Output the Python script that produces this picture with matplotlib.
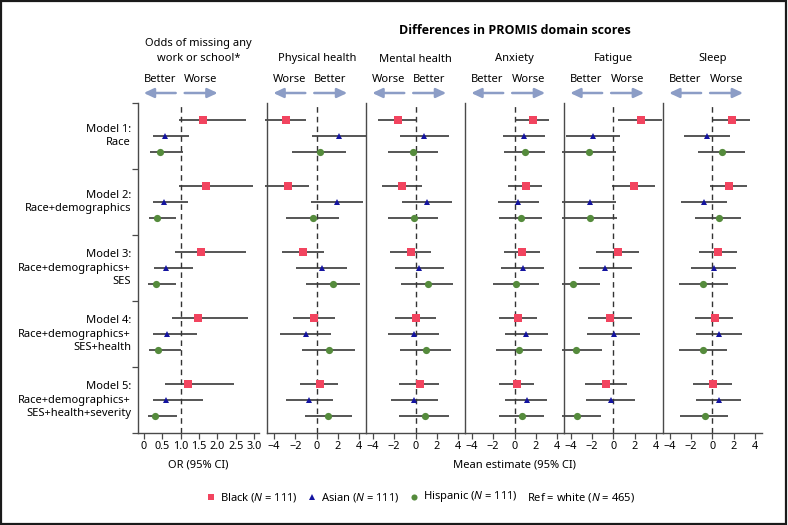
import matplotlib
matplotlib.use("Agg")
import matplotlib.pyplot as plt
from matplotlib.lines import Line2D
from matplotlib.patches import Rectangle, FancyArrowPatch

FONT = "Noto Sans"
plt.rcParams['font.family'] = [FONT, 'DejaVu Sans']
plt.rcParams['mathtext.fontset'] = 'custom'
plt.rcParams['mathtext.it'] = FONT + ':italic'
plt.rcParams['mathtext.rm'] = FONT

# ---------------- data ----------------
models = ["Model 1:\nRace",
          "Model 2:\nRace+demographics",
          "Model 3:\nRace+demographics+\nSES",
          "Model 4:\nRace+demographics+\nSES+health",
          "Model 5:\nRace+demographics+\nSES+health+severity"]
groups = ["Black", "Asian", "Hispanic"]

# Odds ratio of missing any work or school: (estimate, low, high) per model
or_black_est = [1.62, 1.69, 1.54, 1.47, 1.21]
or_black_lo = [0.94, 0.96, 0.85, 0.76, 0.57]
or_black_hi = [2.77, 2.96, 2.77, 2.82, 2.46]
or_asian_est = [0.57, 0.54, 0.60, 0.63, 0.61]
or_asian_lo = [0.25, 0.24, 0.28, 0.25, 0.24]
or_asian_hi = [1.23, 1.19, 1.33, 1.44, 1.62]
or_hisp_est = [0.44, 0.35, 0.33, 0.38, 0.31]
or_hisp_lo = [0.16, 0.14, 0.11, 0.14, 0.10]
or_hisp_hi = [1.05, 0.87, 0.86, 1.02, 0.91]

# PROMIS domain mean differences
domains = ["Physical health", "Mental health", "Anxiety", "Fatigue", "Sleep"]
dir_labels = [("Worse", "Better"), ("Worse", "Better"), ("Better", "Worse"),
              ("Better", "Worse"), ("Better", "Worse")]

phys_black_est = [-2.85, -2.66, -1.25, -0.25, 0.31]
phys_black_lo = [-4.8, -4.8, -3.22, -2.22, -1.59]
phys_black_hi = [-0.97, -0.69, 0.72, 1.69, 2.03]
phys_asian_est = [2.09, 1.90, 0.50, -1.00, -0.75]
phys_asian_lo = [-0.44, -0.56, -1.94, -3.41, -2.87]
phys_asian_hi = [4.62, 4.38, 2.87, 1.37, 1.50]
phys_hisp_est = [0.28, -0.37, 1.56, 1.15, 1.06]
phys_hisp_lo = [-2.28, -2.84, -1.00, -1.34, -1.12]
phys_hisp_hi = [2.72, 2.12, 4.03, 3.56, 3.31]

ment_black_est = [-1.62, -1.28, -0.41, 0.03, 0.44]
ment_black_lo = [-3.53, -3.19, -2.37, -1.97, -1.56]
ment_black_hi = [0.16, 0.56, 1.41, 1.94, 2.22]
ment_asian_est = [0.81, 1.06, 0.34, -0.19, -0.16]
ment_asian_lo = [-1.50, -1.25, -1.97, -2.56, -2.34]
ment_asian_hi = [3.16, 3.37, 2.69, 2.22, 2.12]
ment_hisp_est = [-0.22, -0.19, 1.16, 0.97, 0.84]
ment_hisp_lo = [-2.56, -2.56, -1.34, -1.50, -1.59]
ment_hisp_hi = [2.06, 2.09, 3.53, 3.34, 3.09]

anx_black_est = [1.69, 1.06, 0.72, 0.37, 0.19]
anx_black_lo = [0.00, -0.59, -0.94, -1.41, -1.47]
anx_black_hi = [3.19, 2.60, 2.41, 2.06, 1.78]
anx_asian_est = [0.88, 0.37, 0.81, 1.12, 1.16]
anx_asian_lo = [-1.12, -1.59, -1.22, -0.90, -0.87]
anx_asian_hi = [2.84, 2.34, 2.75, 3.16, 3.06]
anx_hisp_est = [0.97, 0.60, 0.16, 0.44, 0.66]
anx_hisp_lo = [-1.03, -1.41, -2.00, -1.72, -1.43]
anx_hisp_hi = [2.87, 2.56, 2.25, 2.56, 2.78]

fat_black_est = [2.57, 1.94, 0.44, -0.28, -0.66]
fat_black_lo = [0.47, -0.15, -1.65, -2.41, -2.62]
fat_black_hi = [4.53, 3.91, 2.38, 1.69, 1.25]
fat_asian_est = [-1.90, -2.19, -0.78, 0.06, -0.25]
fat_asian_lo = [-4.41, -4.8, -3.22, -2.47, -2.53]
fat_asian_hi = [0.63, 0.25, 1.72, 2.50, 2.06]
fat_hisp_est = [-2.25, -2.19, -3.78, -3.53, -3.44]
fat_hisp_lo = [-4.8, -4.8, -4.8, -4.8, -4.8]
fat_hisp_hi = [0.25, 0.31, -1.22, -1.06, -1.16]

slp_black_est = [1.81, 1.56, 0.56, 0.25, 0.06]
slp_black_lo = [0.09, -0.25, -1.22, -1.65, -1.78]
slp_black_hi = [3.56, 3.25, 2.28, 1.97, 1.81]
slp_asian_est = [-0.47, -0.75, 0.12, 0.59, 0.63]
slp_asian_lo = [-2.62, -2.91, -2.00, -1.56, -1.50]
slp_asian_hi = [1.62, 1.37, 2.22, 2.81, 2.69]
slp_hisp_est = [0.88, 0.63, -0.84, -0.84, -0.72]
slp_hisp_lo = [-1.31, -1.59, -3.09, -3.12, -3.00]
slp_hisp_hi = [3.03, 2.69, 1.44, 1.34, 1.44]

or_ticks = [0, 0.5, 1.0, 1.5, 2.0, 2.5, 3.0]
or_ticklabels = ["0", "0.5", "1.0", "1.5", "2.0", "2.5", "3.0"]
mean_ticks = [-4, -2, 0, 2, 4]

legend_labels = [r"Black ($\mathit{N}$ = 111)", r"Asian ($\mathit{N}$ = 111)",
                 r"Hispanic ($\mathit{N}$ = 111)", r"Ref = white ($\mathit{N}$ = 465)"]

# ---------------- style ----------------
W, H = 788, 525
colors = {"Black": "#f2445f", "Asian": "#1414a0", "Hispanic": "#558b3c"}
markers = {"Black": "s", "Asian": "^", "Hispanic": "o"}
msizes = {"Black": 5.5, "Asian": 5, "Hispanic": 5.2}
line_col = "#383838"
spine_col = "#4a4a4a"
arrow_col = "#8c9dc6"
FS = 8.0
TFS = 7.8

def fx(x):
    return x / W

def fy(y):
    return 1 - y / H

fig = plt.figure(figsize=(W / 100, H / 100), dpi=100)

TOP, BOT = 103, 433
row_off = [-0.235, 0.0, 0.235]

def draw_panel(ax, est_lists, lo_lists, hi_lists, ref):
    for k, g in enumerate(groups):
        est, lo, hi = est_lists[k], lo_lists[k], hi_lists[k]
        ys = [m + 0.5 + row_off[k] for m in range(len(models))]
        ax.hlines(ys, lo, hi, color=line_col, lw=1.2, zorder=2, clip_on=False)
        ax.plot(est, ys, ls="none", marker=markers[g], color=colors[g],
                markersize=msizes[g], markeredgewidth=0, zorder=3, clip_on=False)
    ax.axvline(ref, color="#333333", lw=1.0, ls=(0, (4, 3)), zorder=1)
    ax.set_ylim(len(models), 0)
    for s in ["top", "right"]:
        ax.spines[s].set_visible(False)
    for s in ["left", "bottom"]:
        ax.spines[s].set_color(spine_col)
        ax.spines[s].set_linewidth(1.0)
    ax.tick_params(axis="x", direction="out", length=4, width=0.9, color=spine_col,
                   labelsize=TFS, pad=2)

def dir_header(left_px, labels):
    l1, l2 = labels
    fig.text(fx(left_px + 22), fy(80), l1, ha="center", va="center", fontsize=FS)
    fig.text(fx(left_px + 63), fy(80), l2, ha="center", va="center", fontsize=FS)
    for (xa, xb) in [(left_px + 38, left_px + 6), (left_px + 47, left_px + 80)]:
        fig.add_artist(FancyArrowPatch(
            (fx(xa), fy(93)), (fx(xb), fy(93)), transform=fig.transFigure,
            arrowstyle="-|>,head_length=6,head_width=2.8", lw=1.8,
            color=arrow_col, shrinkA=0, shrinkB=0, mutation_scale=1))

# ---- OR panel ----
or_left, or_right = 137.7, 259.0
ax_or = fig.add_axes([fx(or_left), fy(BOT), (or_right - or_left) / W, (BOT - TOP) / H])
draw_panel(ax_or, [or_black_est, or_asian_est, or_hisp_est],
           [or_black_lo, or_asian_lo, or_hisp_lo],
           [or_black_hi, or_asian_hi, or_hisp_hi], 1.0)
ax_or.set_xlim(-0.17, 3.13)
ax_or.set_xticks(or_ticks)
ax_or.set_xticklabels(or_ticklabels)
ax_or.set_yticks(range(len(models) + 1))
ax_or.set_yticklabels([])
ax_or.tick_params(axis="y", direction="out", length=4, width=0.9, color=spine_col)
for m, lab in enumerate(models):
    ax_or.text(-0.055, m + 0.5, lab, transform=ax_or.get_yaxis_transform(),
               ha="right", va="center", fontsize=FS, linespacing=1.3)
ax_or.set_xlabel("OR (95% CI)", fontsize=FS, labelpad=5)
fig.text(fx((or_left + or_right) / 2), fy(51), "Odds of missing any\nwork or school*",
         ha="center", va="center", fontsize=FS, linespacing=1.6)
dir_header(or_left, ("Better", "Worse"))

# ---- domain panels ----
pl0, pw = 267.3, 98.95
dom_data = [
    ([phys_black_est, phys_asian_est, phys_hisp_est], [phys_black_lo, phys_asian_lo, phys_hisp_lo], [phys_black_hi, phys_asian_hi, phys_hisp_hi]),
    ([ment_black_est, ment_asian_est, ment_hisp_est], [ment_black_lo, ment_asian_lo, ment_hisp_lo], [ment_black_hi, ment_asian_hi, ment_hisp_hi]),
    ([anx_black_est, anx_asian_est, anx_hisp_est], [anx_black_lo, anx_asian_lo, anx_hisp_lo], [anx_black_hi, anx_asian_hi, anx_hisp_hi]),
    ([fat_black_est, fat_asian_est, fat_hisp_est], [fat_black_lo, fat_asian_lo, fat_hisp_lo], [fat_black_hi, fat_asian_hi, fat_hisp_hi]),
    ([slp_black_est, slp_asian_est, slp_hisp_est], [slp_black_lo, slp_asian_lo, slp_hisp_lo], [slp_black_hi, slp_asian_hi, slp_hisp_hi]),
]
for i, dom in enumerate(domains):
    left = pl0 + i * pw
    ax = fig.add_axes([fx(left), fy(BOT), pw / W, (BOT - TOP) / H])
    e, lo, hi = dom_data[i]
    draw_panel(ax, e, lo, hi, 0.0)
    ax.set_xlim(-4.62, 4.65)
    ax.set_xticks(mean_ticks)
    ax.set_yticks([])
    fig.text(fx(left + pw / 2), fy(59), dom, ha="center", va="center", fontsize=FS)
    dir_header(left, dir_labels[i])

fig.text(fx(pl0 + 2.5 * pw), fy(465), "Mean estimate (95% CI)", ha="center",
         va="center", fontsize=FS)
fig.text(fx(pl0 + 2.5 * pw), fy(31), "Differences in PROMIS domain scores",
         ha="center", va="center", fontsize=FS + 1.0, fontweight="bold",
         family=["Open Sans", "DejaVu Sans"])

# ---- legend ----
leg_y = 497
leg_items = [(211, 220, "Black"), (312, 321, "Asian"), (414, 423, "Hispanic"), (None, 527, None)]
for (mx, tx, g), lab in zip(leg_items, legend_labels):
    if g is not None:
        fig.add_artist(Line2D([fx(mx)], [fy(leg_y)], transform=fig.transFigure,
                              ls="none", marker=markers[g], color=colors[g],
                              markersize=msizes[g] - 0.8, markeredgewidth=0))
    fig.text(fx(tx), fy(leg_y), lab, ha="left", va="center", fontsize=FS)

# figure border
fig.patches.append(Rectangle((0.001, 0.002), 0.997, 0.996, transform=fig.transFigure,
                             fill=False, edgecolor="#1a1a1a", lw=1.6))

fig.savefig("out.png", dpi=100)
